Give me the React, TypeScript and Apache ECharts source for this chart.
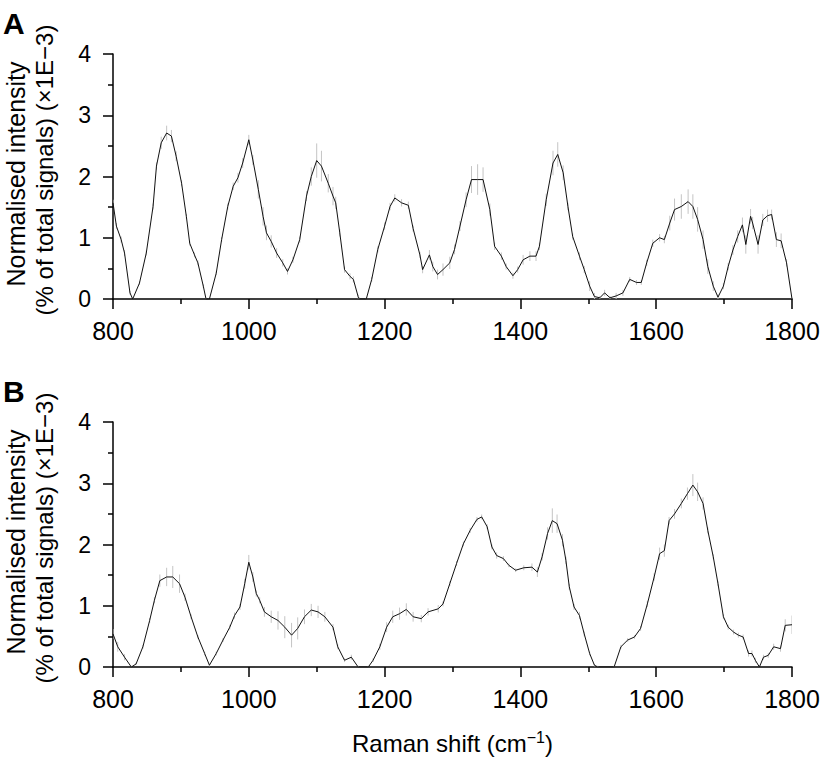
import React, { useEffect, useRef } from "react";
import * as echarts from "echarts";

// Panel A
const shiftsA = [
  800, 805, 812, 817, 825, 829, 839, 849, 859, 864,
  871, 879, 886, 893, 901, 908, 913, 920, 925, 933,
  937, 942, 952, 960, 969, 977, 984, 991, 1000, 1006,
  1014, 1021, 1026, 1033, 1041, 1050, 1057, 1065, 1075, 1085,
  1092, 1100, 1107, 1117, 1124, 1128, 1134, 1141, 1149, 1154,
  1161, 1163, 1173, 1181, 1190, 1200, 1208, 1215, 1225, 1235,
  1242, 1252, 1256, 1266, 1271, 1278, 1286, 1296, 1303, 1311,
  1320, 1328, 1337, 1345, 1355, 1362, 1372, 1379, 1389, 1396,
  1404, 1414, 1423, 1428, 1438, 1448, 1455, 1463, 1470, 1477,
  1487, 1494, 1502, 1509, 1517, 1524, 1532, 1541, 1551, 1561,
  1571, 1578, 1586, 1595, 1605, 1612, 1620, 1627, 1637, 1647,
  1654, 1661, 1669, 1676, 1684, 1691, 1699, 1706, 1713, 1720,
  1727, 1732, 1739, 1742, 1750, 1757, 1764, 1770, 1777, 1784,
  1792, 1800,
];
const intensityA = [
  1.57, 1.19, 0.97, 0.75, 0.10, 0.00, 0.26, 0.75, 1.51, 2.17,
  2.55, 2.71, 2.66, 2.33, 1.89, 1.35, 0.91, 0.72, 0.59, 0.21,
  0.00, 0.00, 0.42, 0.97, 1.51, 1.84, 1.98, 2.22, 2.60, 2.27,
  1.79, 1.35, 1.08, 0.94, 0.75, 0.59, 0.45, 0.64, 0.97, 1.68,
  2.00, 2.26, 2.17, 1.89, 1.68, 1.57, 1.08, 0.48, 0.37, 0.32,
  0.04, 0.00, 0.00, 0.32, 0.81, 1.19, 1.51, 1.65, 1.57, 1.53,
  1.15, 0.72, 0.48, 0.72, 0.53, 0.40, 0.48, 0.59, 0.81, 1.19,
  1.62, 1.95, 1.95, 1.95, 1.46, 0.86, 0.70, 0.53, 0.38, 0.48,
  0.64, 0.70, 0.70, 0.86, 1.62, 2.22, 2.36, 2.06, 1.51, 1.02,
  0.70, 0.48, 0.21, 0.04, 0.02, 0.10, 0.02, 0.05, 0.10, 0.32,
  0.27, 0.27, 0.59, 0.91, 1.00, 0.97, 1.24, 1.46, 1.51, 1.59,
  1.51, 1.30, 0.97, 0.53, 0.21, 0.03, 0.21, 0.53, 0.80, 1.02,
  1.21, 0.89, 1.35, 1.24, 0.89, 1.29, 1.36, 1.38, 0.97, 0.95,
  0.59, 0.00,
];
const errorA = [
  0.05, 0.05, 0.05, 0.05, 0.03, 0.02, 0.03, 0.04, 0.05, 0.06,
  0.10, 0.12, 0.10, 0.08, 0.05, 0.04, 0.04, 0.04, 0.04, 0.03,
  0.02, 0.02, 0.03, 0.04, 0.05, 0.06, 0.08, 0.08, 0.08, 0.08,
  0.15, 0.15, 0.12, 0.10, 0.08, 0.06, 0.05, 0.05, 0.05, 0.08,
  0.15, 0.28, 0.25, 0.15, 0.15, 0.10, 0.06, 0.05, 0.05, 0.05,
  0.03, 0.02, 0.02, 0.04, 0.05, 0.06, 0.06, 0.06, 0.06, 0.06,
  0.05, 0.05, 0.06, 0.08, 0.08, 0.08, 0.10, 0.10, 0.08, 0.08,
  0.12, 0.22, 0.25, 0.20, 0.10, 0.06, 0.06, 0.05, 0.05, 0.05,
  0.08, 0.08, 0.08, 0.06, 0.10, 0.20, 0.20, 0.12, 0.06, 0.05,
  0.06, 0.06, 0.08, 0.06, 0.03, 0.05, 0.03, 0.05, 0.05, 0.04,
  0.04, 0.04, 0.05, 0.06, 0.06, 0.06, 0.12, 0.18, 0.20, 0.20,
  0.20, 0.20, 0.15, 0.12, 0.08, 0.05, 0.05, 0.06, 0.08, 0.10,
  0.12, 0.15, 0.12, 0.10, 0.15, 0.10, 0.10, 0.08, 0.12, 0.12,
  0.06, 0.02,
];

// Panel B
const shiftsB = [
  800, 807, 817, 827, 834, 844, 854, 861, 869, 879,
  888, 898, 906, 915, 925, 935, 942, 952, 962, 972,
  979, 987, 994, 1000, 1006, 1011, 1016, 1023, 1033, 1043,
  1053, 1063, 1072, 1082, 1092, 1102, 1112, 1124, 1131, 1141,
  1151, 1161, 1176, 1183, 1193, 1203, 1212, 1222, 1232, 1242,
  1254, 1264, 1279, 1286, 1296, 1306, 1316, 1326, 1336, 1343,
  1351, 1358, 1365, 1375, 1383, 1393, 1405, 1417, 1425, 1432,
  1440, 1447, 1454, 1462, 1467, 1472, 1479, 1487, 1494, 1502,
  1509, 1514, 1538, 1548, 1558, 1568, 1577, 1587, 1597, 1605,
  1612, 1619, 1627, 1637, 1646, 1654, 1661, 1669, 1676, 1684,
  1691, 1699, 1706, 1714, 1721, 1728, 1736, 1741, 1746, 1752,
  1758, 1765, 1773, 1783, 1790, 1800,
];
const intensityB = [
  0.54, 0.33, 0.16, 0.00, 0.05, 0.33, 0.76, 1.09, 1.41, 1.47,
  1.47, 1.36, 1.14, 0.82, 0.49, 0.22, 0.03, 0.22, 0.44, 0.65,
  0.84, 0.98, 1.36, 1.71, 1.47, 1.20, 1.09, 0.90, 0.82, 0.76,
  0.65, 0.52, 0.63, 0.82, 0.93, 0.90, 0.82, 0.65, 0.33, 0.11,
  0.16, 0.00, 0.00, 0.11, 0.33, 0.65, 0.82, 0.87, 0.94, 0.82,
  0.79, 0.90, 0.95, 1.03, 1.36, 1.69, 2.01, 2.23, 2.41, 2.45,
  2.29, 1.96, 1.82, 1.77, 1.66, 1.58, 1.62, 1.63, 1.55, 1.80,
  2.18, 2.39, 2.34, 2.07, 1.74, 1.31, 0.98, 0.84, 0.54, 0.22,
  0.03, 0.00, 0.00, 0.33, 0.44, 0.49, 0.63, 1.03, 1.47, 1.85,
  1.90, 2.39, 2.50, 2.67, 2.83, 2.97, 2.86, 2.67, 2.23, 1.80,
  1.36, 0.82, 0.65, 0.57, 0.52, 0.49, 0.22, 0.22, 0.11, 0.00,
  0.16, 0.19, 0.33, 0.30, 0.68, 0.69,
];
const errorB = [
  0.08, 0.08, 0.05, 0.02, 0.02, 0.03, 0.04, 0.05, 0.10, 0.15,
  0.18, 0.15, 0.06, 0.04, 0.03, 0.03, 0.02, 0.03, 0.03, 0.04,
  0.05, 0.05, 0.08, 0.12, 0.08, 0.05, 0.05, 0.08, 0.10, 0.15,
  0.18, 0.20, 0.18, 0.12, 0.10, 0.10, 0.08, 0.05, 0.04, 0.03,
  0.04, 0.02, 0.02, 0.03, 0.05, 0.08, 0.10, 0.10, 0.10, 0.08,
  0.06, 0.06, 0.06, 0.04, 0.04, 0.04, 0.04, 0.04, 0.04, 0.04,
  0.04, 0.04, 0.05, 0.04, 0.03, 0.03, 0.04, 0.06, 0.08, 0.06,
  0.10, 0.20, 0.15, 0.10, 0.06, 0.05, 0.05, 0.06, 0.04, 0.03,
  0.02, 0.02, 0.02, 0.03, 0.03, 0.03, 0.04, 0.05, 0.06, 0.10,
  0.10, 0.06, 0.08, 0.08, 0.10, 0.18, 0.15, 0.10, 0.05, 0.04,
  0.04, 0.04, 0.04, 0.04, 0.04, 0.04, 0.05, 0.05, 0.04, 0.03,
  0.04, 0.04, 0.05, 0.05, 0.10, 0.15,
];

const xTicks = { min: 800, max: 1800, interval: 200 };
const yTicks = { min: 0, max: 4, interval: 1 };

const FONT = "'Liberation Sans', Arial, Helvetica, sans-serif";

function App() {
  const ref = useRef<HTMLDivElement>(null);

  useEffect(() => {
    if (!ref.current) return;
    const chart = echarts.init(ref.current, null, { renderer: "svg" });

    const panels = [
      { x: shiftsA, y: intensityA, e: errorA },
      { x: shiftsB, y: intensityB, e: errorB },
    ];
    const tops = [54, 422];

    const axisLineStyle = { color: "#000", width: 1.5 };

    const xAxes = panels.map((_, i) => ({
      type: "value",
      gridIndex: i,
      min: xTicks.min,
      max: xTicks.max,
      interval: xTicks.interval,
      axisLine: { show: true, lineStyle: axisLineStyle },
      axisTick: { show: true, inside: false, length: 10, lineStyle: axisLineStyle },
      minorTick: { show: true, splitNumber: 2, length: 5, lineStyle: axisLineStyle },
      splitLine: { show: false },
      minorSplitLine: { show: false },
      axisLabel: {
        color: "#000",
        fontSize: 25,
        fontFamily: FONT,
        margin: 19,
        formatter: (v: number) => String(v),
      },
      ...(i === 1
        ? {
            name: "{a|Raman shift (cm}{s|−1}{a|)}",
            nameLocation: "middle",
            nameGap: 62,
            nameTextStyle: {
              rich: {
                a: { fontSize: 24, fontFamily: FONT, color: "#000", lineHeight: 28 },
                s: { fontSize: 16, fontFamily: FONT, color: "#000", verticalAlign: "top", lineHeight: 28, padding: [0, 0, 10, 0] },
              },
            },
          }
        : {}),
    }));

    const yAxes = panels.map((_, i) => ({
      type: "value",
      gridIndex: i,
      min: yTicks.min,
      max: yTicks.max,
      interval: yTicks.interval,
      axisLine: { show: true, lineStyle: axisLineStyle },
      axisTick: { show: true, inside: false, length: 10, lineStyle: axisLineStyle },
      minorTick: { show: true, splitNumber: 2, length: 5, lineStyle: axisLineStyle },
      splitLine: { show: false },
      minorSplitLine: { show: false },
      axisLabel: { color: "#000", fontSize: 23, fontFamily: FONT, margin: 22 },
    }));

    const series: any[] = [];
    panels.forEach((p, i) => {
      series.push({
        type: "custom",
        xAxisIndex: i,
        yAxisIndex: i,
        silent: true,
        clip: true,
        data: p.x.map((x, k) => [x, p.y[k], p.e[k]]),
        renderItem: (params: any, api: any) => {
          const x = api.value(0);
          const y = api.value(1);
          const e = api.value(2);
          const top = api.coord([x, y + e]);
          const bot = api.coord([x, Math.max(0, y - e)]);
          return {
            type: "line",
            shape: { x1: top[0], y1: top[1], x2: bot[0], y2: bot[1] },
            style: { stroke: "#c4c4c4", lineWidth: 1 },
          };
        },
      });
      series.push({
        type: "line",
        xAxisIndex: i,
        yAxisIndex: i,
        silent: true,
        showSymbol: false,
        symbol: "none",
        data: p.x.map((x, k) => [x, p.y[k]]),
        lineStyle: { color: "#111", width: 1 },
      });
    });

    const graphics: any[] = [];
    const letters = ["A", "B"];
    tops.forEach((t, i) => {
      const cy = t + 122;
      graphics.push({
        type: "text",
        left: 3,
        top: t - 46,
        style: { text: letters[i], font: `bold 30px ${FONT}`, fill: "#000" },
      });
      graphics.push({
        type: "text",
        x: 16,
        y: cy - 2,
        rotation: Math.PI / 2,
        style: {
          text: "Normalised intensity",
          font: `25px ${FONT}`,
          fill: "#000",
          align: "center",
          verticalAlign: "middle",
        },
      });
      graphics.push({
        type: "text",
        x: 44,
        y: cy - 6,
        rotation: Math.PI / 2,
        style: {
          text: "(% of total signals) (×1E−3)",
          font: `24px ${FONT}`,
          fill: "#000",
          align: "center",
          verticalAlign: "middle",
        },
      });
    });

    chart.setOption({
      animation: false,
      backgroundColor: "#fff",
      grid: tops.map((t) => ({ left: 113, top: t, width: 679, height: 245 })),
      xAxis: xAxes,
      yAxis: yAxes,
      series,
      graphic: graphics,
    });

    return () => chart.dispose();
  }, []);

  return (
    <div
      ref={ref}
      style={{ position: "absolute", left: 0, top: 0, width: 826, height: 761 }}
    />
  );
}

export default App;
